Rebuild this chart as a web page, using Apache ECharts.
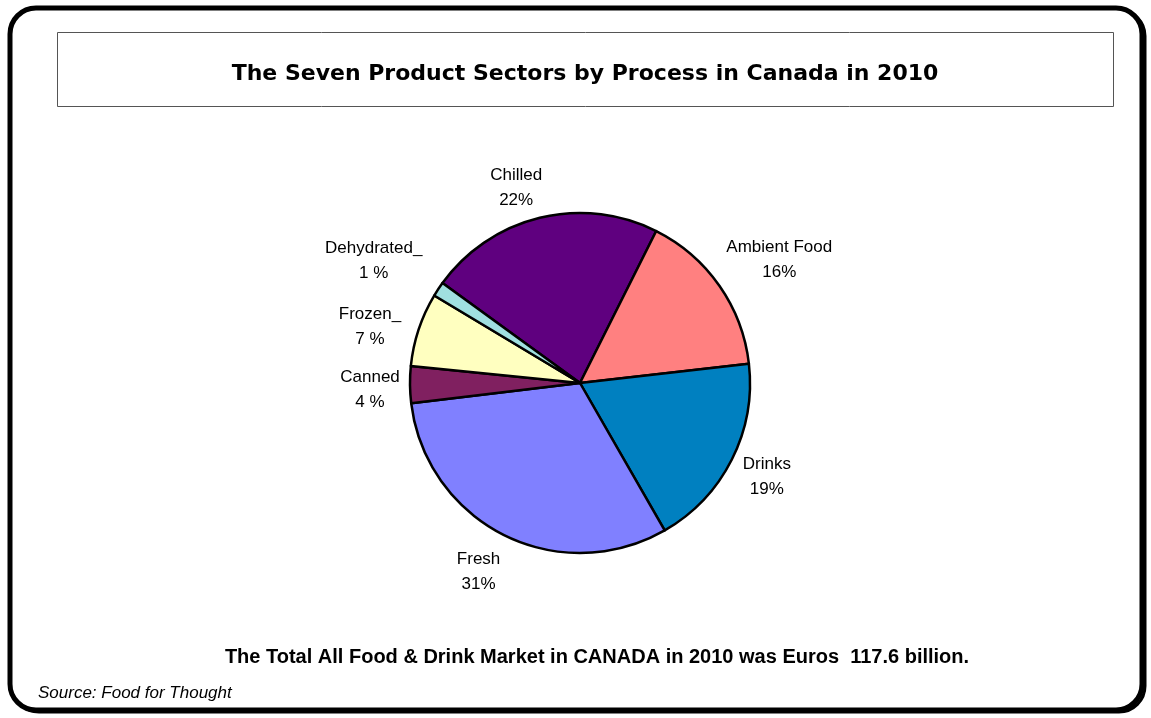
<!DOCTYPE html>
<html>
<head>
<meta charset="utf-8">
<script src="https://cdn.jsdelivr.net/npm/echarts@6/dist/echarts.min.js"></script>
<style>
html,body{margin:0;padding:0;background:#fff;}
#chart{width:1151px;height:718px;}
</style>
</head>
<body>
<div id="chart"></div>
<script>
// Data (clockwise from the Chilled slice)
const categories = ["Chilled", "Ambient Food", "Drinks", "Fresh", "Canned", "Frozen", "Dehydrated"];
const shares = [22.4, 15.8, 18.5, 31.4, 3.5, 7.0, 1.4];
const labelNames = ["Chilled", "Ambient Food", "Drinks", "Fresh", "Canned", "Frozen_", "Dehydrated_"];
const labelPercents = ["22%", "16%", "19%", "31%", "4 %", "7 %", "1 %"];

// Styles
const sliceColors = ["#5F007F", "#FF8080", "#0080C0", "#8080FF", "#802060", "#FFFFC0", "#A0E0E0"];
const labelDx = [-13, 23, -5, -5, 5, -6, -27];
const labelDy = [14, 0, -3, -3, 5, 12, -4];

const chart = echarts.init(document.getElementById('chart'), null, {renderer: 'canvas'});
const font = '"Liberation Sans", Arial, sans-serif';

const option = {
  backgroundColor: '#ffffff',
  animation: false,
  graphic: [
    {type: 'rect', shape: {x: 13, y: 10, width: 1132, height: 702, r: 26},
     style: {fill: 'none', stroke: '#000', lineWidth: 3}, z: -20},
    {type: 'rect', shape: {x: 10, y: 8, width: 1132, height: 702, r: 26},
     style: {fill: '#fff', stroke: '#000', lineWidth: 5}, z: -10},
    {type: 'rect', shape: {x: 57.5, y: 32.5, width: 1056, height: 74},
     style: {fill: '#fff', stroke: '#555', lineWidth: 1}, z: -5},
    {type: 'text', x: 585, y: 74, z: 10,
     style: {text: 'The Seven Product Sectors by Process in Canada in 2010', fill: '#000',
       font: 'bold 22px "DejaVu Sans", sans-serif', align: 'center', verticalAlign: 'middle'}},
    {type: 'text', x: 597, y: 657, z: 10,
     style: {text: 'The Total All Food & Drink Market in CANADA in 2010 was Euros  117.6 billion.', fill: '#000',
       font: 'bold 20px ' + font, align: 'center', verticalAlign: 'middle'}},
    {type: 'text', x: 38, y: 693, z: 10,
     style: {text: 'Source: Food for Thought', fill: '#000',
       font: 'italic 17px ' + font, align: 'left', verticalAlign: 'middle'}}
  ],
  series: [
    {
      type: 'pie',
      center: [580, 383],
      radius: 170,
      startAngle: 144,
      clockwise: true,
      avoidLabelOverlap: false,
      label: {show: false},
      labelLine: {show: false},
      itemStyle: {borderColor: '#000', borderWidth: 2.5},
      emphasis: {disabled: true},
      data: categories.map((c, i) => ({name: c, value: shares[i], itemStyle: {color: sliceColors[i]}}))
    },
    {
      type: 'pie',
      center: [580, 383],
      radius: [200, 224],
      startAngle: 144,
      clockwise: true,
      silent: true,
      avoidLabelOverlap: false,
      itemStyle: {color: 'rgba(0,0,0,0)', borderWidth: 0},
      labelLine: {show: false},
      label: {
        show: true,
        position: 'inside',
        color: '#000',
        fontFamily: font,
        fontSize: 17,
        lineHeight: 25,
        align: 'center',
        formatter: p => labelNames[p.dataIndex] + '\n' + labelPercents[p.dataIndex]
      },
      labelLayout: p => ({dx: labelDx[p.dataIndex], dy: labelDy[p.dataIndex]}),
      emphasis: {disabled: true},
      data: categories.map((c, i) => ({name: c, value: shares[i]}))
    }
  ]
};
chart.setOption(option);
</script>
</body>
</html>
